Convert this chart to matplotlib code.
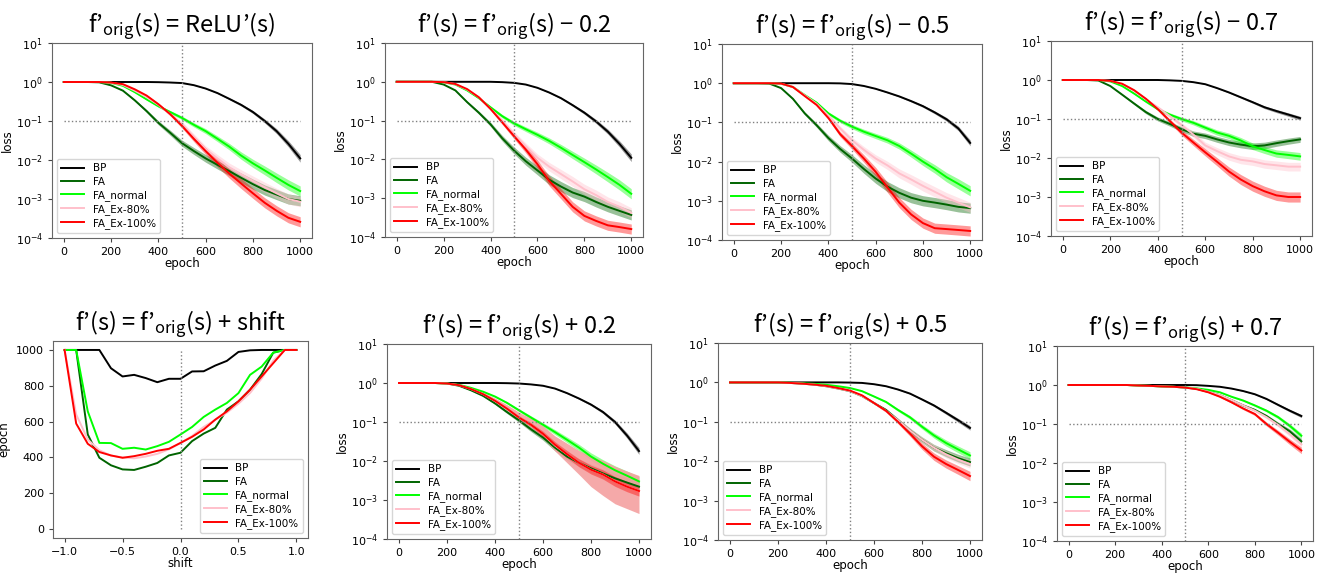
import numpy as np
import matplotlib
matplotlib.use("Agg")
import matplotlib.pyplot as plt

plt.rcParams['mathtext.rm'] = 'Noto Sans CJK JP'
plt.rcParams['mathtext.it'] = 'Noto Sans CJK JP'

epochs = np.arange(0, 1001, 50)

names = ['BP', 'FA', 'FA_normal', 'FA_Ex-80%', 'FA_Ex-100%']
colors = ['black', 'darkgreen', 'lime', 'pink', 'red']

# f'orig = ReLU'
relu_bp = [1, 1, 1, 1, 1, 1, 1, 1, 0.99, 0.97, 0.94, 0.83, 0.68, 0.52, 0.37, 0.26, 0.17, 0.1, 0.055, 0.026, 0.011]
relu_fa = [1, 1, 1, 0.98, 0.82, 0.6, 0.34, 0.18, 0.09, 0.05, 0.027, 0.017, 0.011, 0.0075, 0.0052, 0.0035, 0.0024, 0.0017, 0.0013, 0.001, 0.0009]
relu_normal = [1, 1, 1, 1, 0.95, 0.8, 0.55, 0.36, 0.24, 0.17, 0.12, 0.08, 0.055, 0.035, 0.022, 0.013, 0.0082, 0.0054, 0.0035, 0.0023, 0.0016]
relu_ex80 = [1, 1, 1, 1, 0.96, 0.84, 0.6, 0.41, 0.26, 0.15, 0.085, 0.04, 0.019, 0.011, 0.0065, 0.0043, 0.0029, 0.002, 0.0014, 0.001, 0.00085]
relu_ex100 = [1, 1, 1, 1, 0.97, 0.88, 0.65, 0.45, 0.27, 0.15, 0.075, 0.035, 0.017, 0.0085, 0.0045, 0.0025, 0.0014, 0.0008, 0.0005, 0.00033, 0.00026]

# shift -0.2
m02_bp = [1, 1, 1, 1, 1, 1, 1, 1, 1, 0.98, 0.94, 0.85, 0.7, 0.53, 0.38, 0.25, 0.16, 0.095, 0.052, 0.025, 0.011]
m02_fa = [1, 1, 1, 1, 0.85, 0.6, 0.3, 0.16, 0.08, 0.035, 0.017, 0.009, 0.0052, 0.003, 0.002, 0.0014, 0.0011, 0.0008, 0.0006, 0.00047, 0.00037]
m02_normal = [1, 1, 1, 1, 0.97, 0.85, 0.6, 0.38, 0.22, 0.13, 0.085, 0.06, 0.043, 0.03, 0.02, 0.013, 0.0085, 0.0055, 0.0035, 0.0022, 0.0013]
m02_ex80 = [1, 1, 1, 1, 0.98, 0.87, 0.63, 0.4, 0.2, 0.1, 0.045, 0.022, 0.011, 0.0065, 0.0042, 0.0027, 0.0017, 0.0012, 0.0008, 0.0006, 0.00042]
m02_ex100 = [1, 1, 1, 1, 0.98, 0.88, 0.65, 0.4, 0.2, 0.09, 0.04, 0.018, 0.0075, 0.0028, 0.0013, 0.0006, 0.00035, 0.00026, 0.0002, 0.00018, 0.00016]

# shift -0.5
m05_bp = [1, 1, 1, 1, 1, 1, 1, 1, 1, 0.99, 0.95, 0.85, 0.72, 0.58, 0.46, 0.35, 0.26, 0.18, 0.12, 0.07, 0.03]
m05_fa = [1, 1, 1, 0.98, 0.75, 0.4, 0.17, 0.085, 0.04, 0.021, 0.012, 0.0065, 0.0037, 0.0023, 0.0016, 0.0012, 0.001, 0.0009, 0.0008, 0.0007, 0.00065]
m05_normal = [1, 1, 1, 1, 0.97, 0.8, 0.5, 0.32, 0.17, 0.11, 0.078, 0.058, 0.045, 0.035, 0.025, 0.016, 0.01, 0.0065, 0.004, 0.0027, 0.0018]
m05_ex80 = [1, 1, 1, 1, 0.97, 0.8, 0.49, 0.3, 0.15, 0.07, 0.035, 0.02, 0.012, 0.008, 0.005, 0.0035, 0.0024, 0.0017, 0.0012, 0.0009, 0.00068]
m05_ex100 = [1, 1, 1, 1, 0.98, 0.8, 0.47, 0.28, 0.13, 0.05, 0.025, 0.012, 0.0055, 0.0022, 0.0009, 0.00045, 0.00027, 0.0002, 0.00019, 0.00018, 0.00017]

# shift -0.7
m07_bp = [1, 1, 1, 1, 1, 1, 1, 1, 1, 0.98, 0.95, 0.88, 0.78, 0.62, 0.48, 0.36, 0.27, 0.2, 0.16, 0.13, 0.105]
m07_fa = [1, 1, 1, 0.97, 0.7, 0.42, 0.25, 0.15, 0.1, 0.075, 0.055, 0.042, 0.037, 0.03, 0.025, 0.022, 0.02, 0.021, 0.024, 0.027, 0.03]
m07_normal = [1, 1, 1, 1, 0.92, 0.7, 0.45, 0.28, 0.18, 0.13, 0.1, 0.08, 0.06, 0.045, 0.037, 0.028, 0.02, 0.016, 0.013, 0.012, 0.011]
m07_ex80 = [1, 1, 1, 1, 0.95, 0.8, 0.53, 0.32, 0.2, 0.12, 0.07, 0.04, 0.021, 0.015, 0.011, 0.009, 0.0082, 0.007, 0.0065, 0.006, 0.006]
m07_ex100 = [1, 1, 1, 1, 0.95, 0.8, 0.55, 0.33, 0.18, 0.09, 0.045, 0.025, 0.014, 0.008, 0.0045, 0.0028, 0.0019, 0.0014, 0.0011, 0.001, 0.001]

# shift +0.2
p02_bp = [1, 1, 1, 1, 1, 1, 1, 1, 1, 0.99, 0.97, 0.92, 0.85, 0.72, 0.55, 0.4, 0.28, 0.18, 0.1, 0.045, 0.018]
p02_fa = [1, 1, 1, 1, 0.97, 0.85, 0.65, 0.47, 0.3, 0.18, 0.11, 0.065, 0.04, 0.022, 0.013, 0.009, 0.0065, 0.0048, 0.0036, 0.0028, 0.0022]
p02_normal = [1, 1, 1, 1, 0.97, 0.9, 0.75, 0.6, 0.45, 0.31, 0.2, 0.13, 0.085, 0.055, 0.035, 0.022, 0.013, 0.0085, 0.0058, 0.0042, 0.003]
p02_ex80 = [1, 1, 1, 1, 0.97, 0.88, 0.7, 0.52, 0.35, 0.22, 0.13, 0.085, 0.05, 0.025, 0.015, 0.009, 0.006, 0.0045, 0.003, 0.0022, 0.0017]
p02_ex80_low = [1, 1, 1, 1, 0.96, 0.86, 0.68, 0.5, 0.33, 0.2, 0.12, 0.075, 0.04, 0.018, 0.009, 0.0045, 0.0022, 0.0013, 0.0008, 0.0006, 0.00045]
p02_ex100 = [1, 1, 1, 1, 0.97, 0.88, 0.7, 0.52, 0.35, 0.22, 0.13, 0.085, 0.05, 0.026, 0.015, 0.009, 0.006, 0.0045, 0.003, 0.0022, 0.0017]

# shift +0.5
p05_bp = [1, 1, 1, 1, 1, 1, 1, 1, 1, 1, 0.99, 0.97, 0.9, 0.8, 0.66, 0.52, 0.37, 0.26, 0.17, 0.11, 0.07]
p05_fa = [1, 1, 1, 1, 1, 0.97, 0.93, 0.88, 0.8, 0.7, 0.6, 0.45, 0.3, 0.2, 0.11, 0.06, 0.035, 0.022, 0.016, 0.012, 0.0095]
p05_normal = [1, 1, 1, 1, 1, 0.98, 0.95, 0.92, 0.87, 0.8, 0.72, 0.6, 0.44, 0.32, 0.2, 0.13, 0.075, 0.045, 0.029, 0.02, 0.014]
p05_ex80 = [1, 1, 1, 1, 1, 0.97, 0.93, 0.88, 0.8, 0.7, 0.6, 0.45, 0.3, 0.19, 0.11, 0.06, 0.035, 0.022, 0.015, 0.011, 0.0085]
p05_ex100 = [1, 1, 1, 1, 1, 0.97, 0.93, 0.88, 0.82, 0.72, 0.62, 0.47, 0.3, 0.19, 0.1, 0.05, 0.024, 0.013, 0.0085, 0.006, 0.0042]

# shift +0.7
p07_bp = [1, 1, 1, 1, 1, 1, 1, 1, 1, 1, 1, 0.99, 0.95, 0.9, 0.81, 0.7, 0.58, 0.44, 0.31, 0.22, 0.16]
p07_fa = [1, 1, 1, 1, 1, 1, 0.97, 0.95, 0.92, 0.9, 0.86, 0.8, 0.67, 0.55, 0.41, 0.3, 0.23, 0.16, 0.1, 0.065, 0.036]
p07_normal = [1, 1, 1, 1, 1, 1, 0.97, 0.95, 0.92, 0.9, 0.87, 0.82, 0.75, 0.65, 0.5, 0.4, 0.3, 0.22, 0.15, 0.09, 0.05]
p07_ex80 = [1, 1, 1, 1, 1, 1, 0.97, 0.95, 0.92, 0.9, 0.86, 0.8, 0.67, 0.55, 0.41, 0.3, 0.22, 0.15, 0.095, 0.055, 0.03]
p07_ex100 = [1, 1, 1, 1, 1, 1, 0.97, 0.95, 0.92, 0.9, 0.86, 0.78, 0.65, 0.5, 0.36, 0.25, 0.18, 0.1, 0.06, 0.035, 0.021]

# epochs needed to reach loss 0.1 vs shift
shift = [-1.0, -0.9, -0.8, -0.7, -0.6, -0.5, -0.4, -0.3, -0.2, -0.1, 0.0,
         0.1, 0.2, 0.3, 0.4, 0.5, 0.6, 0.7, 0.8, 0.9, 1.0]
shift_bp = [1000, 1000, 1000, 1000, 898, 852, 861, 843, 820, 839, 839, 880, 881, 913, 939, 989, 998, 1000, 1000, 1000, 1000]
shift_fa = [1000, 1000, 528, 398, 356, 333, 330, 348, 369, 411, 426, 491, 533, 565, 667, 713, 778, 865, 985, 1000, 1000]
shift_normal = [1000, 1000, 657, 481, 480, 448, 454, 444, 463, 487, 528, 570, 626, 667, 704, 759, 861, 907, 985, 1000, 1000]
shift_ex80 = [1000, 640, 500, 440, 410, 400, 395, 405, 420, 445, 480, 520, 570, 610, 650, 700, 760, 840, 940, 1000, 1000]
shift_ex100 = [1000, 589, 476, 430, 411, 398, 407, 420, 437, 448, 481, 515, 556, 611, 657, 713, 778, 852, 926, 1000, 1000]

orig = "f’$_{\\mathrm{orig}}$(s)"
titles = [orig + " = ReLU’(s)",
          "f’(s) = " + orig + " − 0.2",
          "f’(s) = " + orig + " − 0.5",
          "f’(s) = " + orig + " − 0.7",
          "f’(s) = " + orig + " + shift",
          "f’(s) = " + orig + " + 0.2",
          "f’(s) = " + orig + " + 0.5",
          "f’(s) = " + orig + " + 0.7"]

loss_panels = {
    0: [relu_bp, relu_fa, relu_normal, relu_ex80, relu_ex100],
    1: [m02_bp, m02_fa, m02_normal, m02_ex80, m02_ex100],
    2: [m05_bp, m05_fa, m05_normal, m05_ex80, m05_ex100],
    3: [m07_bp, m07_fa, m07_normal, m07_ex80, m07_ex100],
    5: [p02_bp, p02_fa, p02_normal, p02_ex80, p02_ex100],
    6: [p05_bp, p05_fa, p05_normal, p05_ex80, p05_ex100],
    7: [p07_bp, p07_fa, p07_normal, p07_ex80, p07_ex100],
}

W, H = 1325, 576
# axes boxes in pixels: left, top, right, bottom
boxes = [(52, 43, 312, 238), (385, 43, 643, 237), (722, 44, 982, 240), (1051, 41, 1312, 236),
         (53, 341, 308, 538), (387, 344, 651, 539), (718, 343, 982, 540), (1057, 346, 1313, 541)]

fig = plt.figure(figsize=(W / 100, H / 100), dpi=100)

for k, (l, t, r, b) in enumerate(boxes):
    ax = fig.add_axes([l / W, 1 - b / H, (r - l) / W, (b - t) / H])
    for sp in ax.spines.values():
        sp.set_color('#666666')
    ax.tick_params(labelsize=8, length=3, color='#444444')
    ax.set_title(titles[k], fontsize=17, pad=7, family=['Noto Sans CJK JP', 'DejaVu Sans'],
                 math_fontfamily='custom')
    if k == 4:
        for ys, c, n in zip([shift_bp, shift_fa, shift_normal, shift_ex80, shift_ex100], colors, names):
            ax.plot(shift, ys, color=c, lw=1.4, label=n)
        ax.vlines(0, 0, 1000, colors='grey', linestyles=':', lw=1)
        ax.set_xlim(-1.1, 1.1)
        ax.set_ylim(-50, 1050)
        ax.set_xticks([-1.0, -0.5, 0.0, 0.5, 1.0])
        ax.set_yticks([0, 200, 400, 600, 800, 1000])
        ax.set_xlabel('shift', fontsize=8.5, labelpad=0)
        ax.set_ylabel('epoch', fontsize=8.5)
        ax.legend(loc='lower right', fontsize=7.5, labelspacing=0.3, handlelength=2.2)
        continue
    series = loss_panels[k]
    for i, (ys, c, n) in enumerate(zip(series, colors, names)):
        ys = np.array(ys)
        # the run-to-run spread widens as the loss falls
        w = np.minimum(0.05 * -np.log10(ys), 0.13)
        lo = ys / 10 ** w
        hi = ys * 10 ** w
        fc, a = c, 0.4
        if k == 5 and i == 3:
            lo = np.array(p02_ex80_low)
            hi = ys * 2.5 ** (w / 0.13)
            fc, a = '#f4a0a0', 0.9
        ax.fill_between(epochs, lo, hi, color=fc, alpha=a, lw=0)
        ax.plot(epochs, ys, color=c, lw=1.4, label=n)
    ax.vlines(500, 1e-4, 1e1, colors='grey', linestyles=':', lw=1)
    ax.hlines(0.1, 0, 1000, colors='grey', linestyles=':', lw=1)
    ax.set_yscale('log')
    ax.set_xlim(-50, 1050)
    ax.set_ylim(1e-4, 1e1)
    ax.set_yticks([1e-4, 1e-3, 1e-2, 1e-1, 1e0, 1e1])
    ax.minorticks_off()
    ax.set_xticks([0, 200, 400, 600, 800, 1000])
    ax.set_xlabel('epoch', fontsize=8.5, labelpad=0)
    ax.set_ylabel('loss', fontsize=8.5, labelpad=1)
    ax.legend(loc='lower left', fontsize=7.5, labelspacing=0.3, handlelength=2.2)

fig.savefig('out.png', dpi=100)
